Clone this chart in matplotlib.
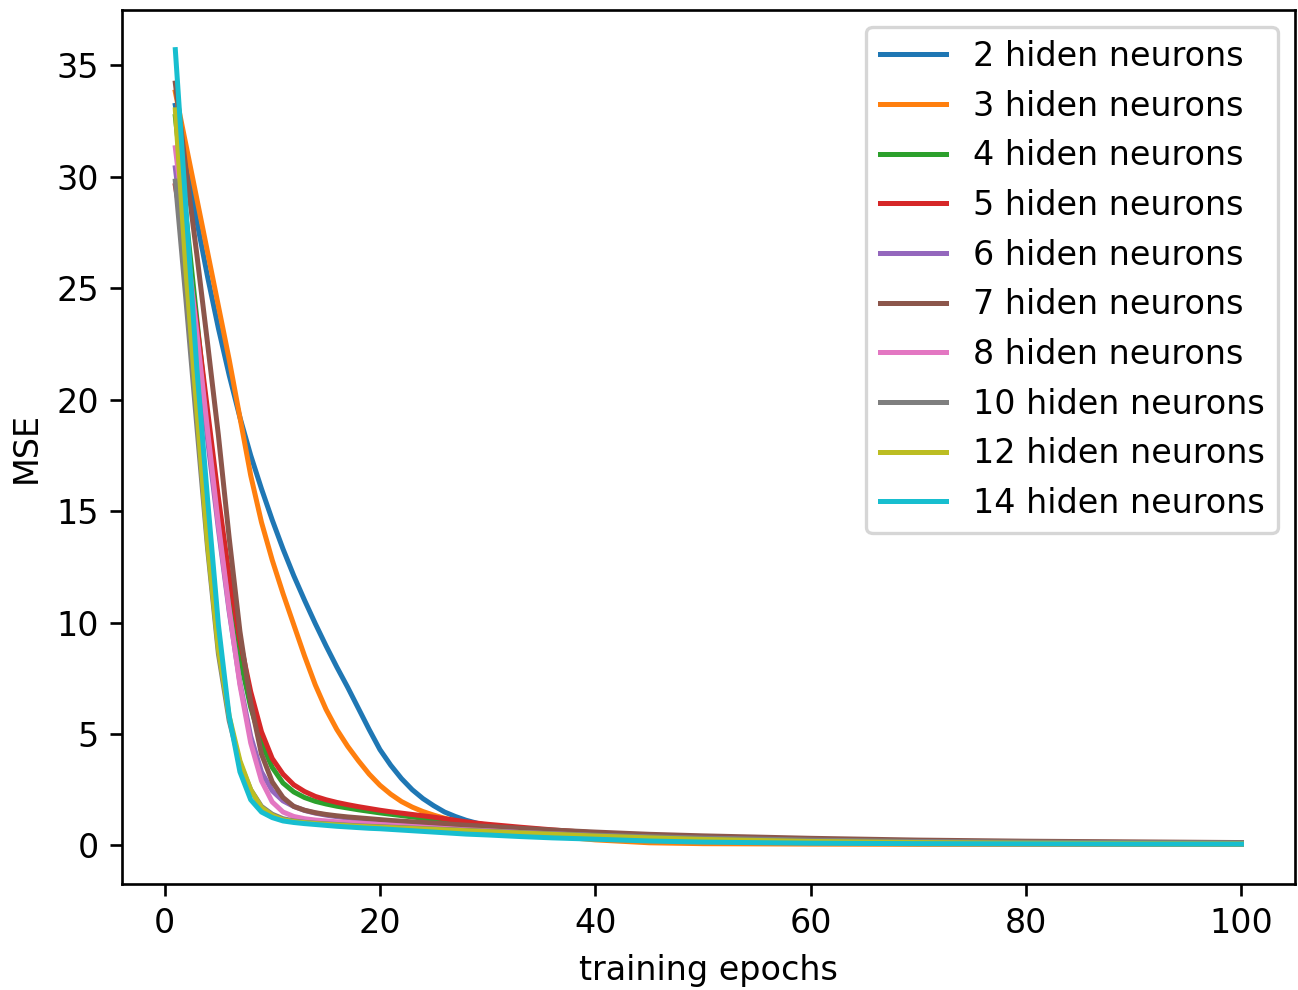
import numpy as np
import matplotlib
matplotlib.use("Agg")
import matplotlib.pyplot as plt

epochs = list(range(1, 31)) + [33, 36, 40, 45, 50, 60, 70, 80, 90, 100]

labels = ["2 hiden neurons", "3 hiden neurons", "4 hiden neurons", "5 hiden neurons",
          "6 hiden neurons", "7 hiden neurons", "8 hiden neurons", "10 hiden neurons",
          "12 hiden neurons", "14 hiden neurons"]

mse_2 = [33.2, 30.6, 28.0, 25.5, 23.2, 21.1, 19.2, 17.5, 16.0, 14.6,
         13.3, 12.1, 11.0, 9.95, 8.95, 8.0, 7.1, 6.15, 5.2, 4.3,
         3.6, 3.0, 2.5, 2.1, 1.78, 1.5, 1.3, 1.13, 1.0, 0.9,
         0.68, 0.52, 0.36, 0.24, 0.17, 0.11, 0.08, 0.07, 0.06, 0.06]
mse_3 = [33.8, 31.4, 29.0, 26.6, 24.2, 21.8, 19.2, 16.6, 14.5, 12.8,
         11.3, 9.9, 8.5, 7.2, 6.1, 5.2, 4.45, 3.8, 3.2, 2.7,
         2.3, 1.97, 1.72, 1.52, 1.36, 1.22, 1.1, 1.0, 0.92, 0.84,
         0.6, 0.42, 0.25, 0.12, 0.08, 0.06, 0.05, 0.05, 0.05, 0.05]
mse_4 = [32.7, 28.2, 23.6, 19.0, 14.7, 11.2, 8.4, 6.2, 4.6, 3.5,
         2.8, 2.4, 2.15, 1.98, 1.86, 1.76, 1.68, 1.6, 1.53, 1.46,
         1.4, 1.34, 1.28, 1.22, 1.16, 1.1, 1.05, 1.0, 0.95, 0.9,
         0.78, 0.66, 0.53, 0.42, 0.33, 0.22, 0.15, 0.11, 0.09, 0.08]
mse_5 = [29.6, 26.8, 23.4, 19.5, 15.6, 12.1, 9.2, 6.9, 5.1, 3.9,
         3.2, 2.72, 2.42, 2.2, 2.05, 1.93, 1.83, 1.74, 1.66, 1.58,
         1.51, 1.45, 1.39, 1.33, 1.27, 1.2, 1.13, 1.06, 1.0, 0.95,
         0.82, 0.7, 0.56, 0.44, 0.35, 0.23, 0.16, 0.12, 0.1, 0.08]
mse_6 = [30.4, 26.4, 22.3, 18.2, 14.2, 10.5, 7.3, 4.9, 3.3, 2.45,
         2.0, 1.75, 1.57, 1.45, 1.36, 1.29, 1.23, 1.18, 1.14, 1.1,
         1.06, 1.03, 1.0, 0.97, 0.94, 0.91, 0.88, 0.85, 0.82, 0.79,
         0.7, 0.62, 0.52, 0.42, 0.34, 0.23, 0.16, 0.12, 0.1, 0.09]
mse_7 = [34.2, 30.3, 26.5, 22.5, 18.4, 13.8, 9.6, 6.4, 4.1, 2.85,
         2.15, 1.75, 1.58, 1.47, 1.39, 1.33, 1.28, 1.24, 1.2, 1.16,
         1.12, 1.09, 1.06, 1.03, 1.0, 0.97, 0.94, 0.91, 0.88, 0.85,
         0.77, 0.69, 0.6, 0.5, 0.43, 0.32, 0.24, 0.19, 0.16, 0.13]
mse_8 = [31.3, 27.3, 23.0, 18.6, 14.4, 10.6, 7.2, 4.6, 2.9, 1.95,
         1.5, 1.3, 1.2, 1.14, 1.1, 1.06, 1.03, 1.0, 0.97, 0.94,
         0.91, 0.88, 0.85, 0.82, 0.79, 0.76, 0.73, 0.7, 0.68, 0.66,
         0.58, 0.52, 0.44, 0.36, 0.3, 0.2, 0.14, 0.11, 0.09, 0.08]
mse_10 = [29.8, 24.4, 18.8, 13.3, 8.6, 5.6, 3.7, 2.5, 1.75, 1.4,
          1.2, 1.1, 1.04, 1.0, 0.97, 0.94, 0.91, 0.88, 0.86, 0.84,
          0.82, 0.8, 0.78, 0.76, 0.74, 0.72, 0.7, 0.68, 0.66, 0.64,
          0.58, 0.53, 0.46, 0.39, 0.33, 0.24, 0.18, 0.15, 0.13, 0.12]
mse_12 = [33.0, 25.7, 19.5, 13.5, 8.8, 5.8, 3.8, 2.5, 1.7, 1.35,
          1.15, 1.07, 1.02, 0.98, 0.95, 0.92, 0.89, 0.86, 0.84, 0.82,
          0.8, 0.78, 0.76, 0.74, 0.72, 0.7, 0.68, 0.66, 0.64, 0.62,
          0.56, 0.5, 0.42, 0.34, 0.27, 0.18, 0.13, 0.1, 0.08, 0.07]
mse_14 = [35.7, 28.5, 21.4, 15.5, 9.9, 5.8, 3.3, 2.05, 1.5, 1.25,
          1.1, 1.03, 0.98, 0.94, 0.9, 0.86, 0.83, 0.8, 0.77, 0.75,
          0.72, 0.69, 0.66, 0.63, 0.6, 0.57, 0.54, 0.51, 0.49, 0.47,
          0.4, 0.34, 0.28, 0.2, 0.15, 0.1, 0.08, 0.07, 0.06, 0.06]

curves = [mse_2, mse_3, mse_4, mse_5, mse_6, mse_7, mse_8, mse_10, mse_12, mse_14]

# reference looks like a default figure rendered at ~240 dpi and cropped tight
fig = plt.figure(figsize=(1298 / 240, 990 / 240), dpi=240)
ax = fig.add_axes([0.094, 0.107, 0.9035, 0.883])

for vals, lab in zip(curves, labels):
    ax.plot(epochs, vals, label=lab)

ax.set_xlabel('training epochs')
ax.set_ylabel('MSE')
ax.legend(loc='upper right')

fig.savefig('out.png', dpi=240)
